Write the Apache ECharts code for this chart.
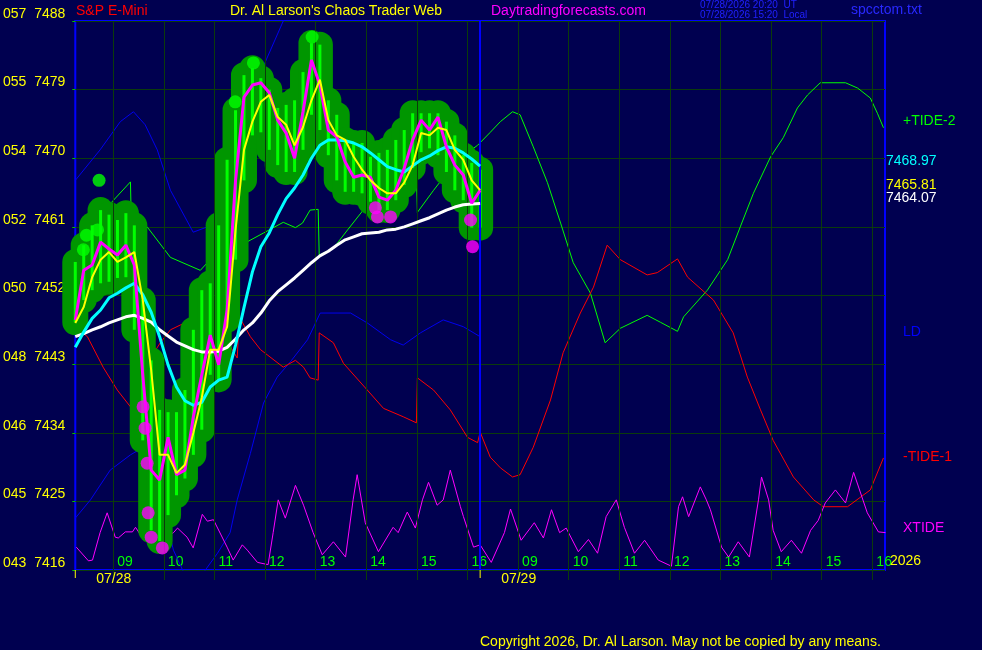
<!DOCTYPE html>
<html>
<head>
<meta charset="utf-8">
<style>
  html, body { margin: 0; padding: 0; background: #000050; }
  #chart { width: 982px; height: 650px; }
</style>
<script src="https://cdn.jsdelivr.net/npm/echarts@6/dist/echarts.min.js"></script>
</head>
<body>
<div id="chart"></div>
<script>
// x is session hours: 1 = 09:00 on 07/28 ... 8 = 16:00, 9 = 09:00 on 07/29 ... 16 = 16:00
const hourLabels = ['09', '10', '11', '12', '13', '14', '15', '16']
const hourTicks = [1, 2, 3, 4, 5, 6, 7, 8, 9, 10, 11, 12, 13, 14, 15, 16]
const dayLabels = ['07/28', '07/29']
const yCodes = ['043', '045', '046', '048', '050', '052', '054', '055', '057']

// 10 minute price bars from 08:15 on 07/28
const highVals = [7456.4, 7458.6, 7461.2, 7463.2, 7462.6, 7461.9, 7462.8, 7461.2, 7451.4, 7443.5,
  7437.0, 7436.7, 7436.7, 7439.6, 7447.5, 7452.7, 7453.6, 7461.2, 7469.8, 7476.3,
  7480.9, 7481.8, 7480.5, 7479.0, 7476.6, 7477.0, 7477.6, 7481.3, 7485.1, 7484.9,
  7477.6, 7475.7, 7472.4, 7472.0, 7472.0, 7470.2, 7470.7, 7471.1, 7472.4, 7473.7,
  7475.9, 7475.9, 7475.9, 7475.9, 7474.8, 7473.0, 7470.4, 7469.4, 7468.5]
const lowVals = [7448.5, 7451.4, 7452.7, 7453.6, 7453.8, 7454.3, 7454.4, 7447.5, 7433.0, 7421.2,
  7419.8, 7423.2, 7425.8, 7428.0, 7431.1, 7434.4, 7441.6, 7441.0, 7448.8, 7456.7,
  7467.1, 7473.0, 7473.4, 7471.1, 7469.1, 7468.2, 7468.2, 7471.1, 7475.7, 7473.7,
  7470.4, 7467.1, 7465.6, 7465.6, 7465.4, 7464.3, 7463.2, 7463.2, 7464.5, 7466.5,
  7468.7, 7470.8, 7471.3, 7470.4, 7468.2, 7465.8, 7464.5, 7460.9, 7460.9]
const closeVals = [7448.8, 7455.3, 7456.0, 7459.0, 7458.1, 7457.3, 7458.6, 7456.0, 7441.6, 7429.1,
  7427.8, 7433.4, 7428.5, 7429.1, 7436.1, 7441.6, 7446.8, 7442.9, 7450.1, 7467.1,
  7478.0, 7479.6, 7479.9, 7478.6, 7475.0, 7473.3, 7470.0, 7476.1, 7482.9, 7479.6,
  7473.7, 7472.8, 7469.5, 7467.5, 7467.8, 7467.5, 7464.9, 7464.5, 7465.8, 7468.7,
  7472.4, 7475.0, 7473.7, 7475.4, 7471.5, 7469.1, 7467.8, 7464.1, 7465.8]
const yellowVals = [7448.4, 7450.5, 7454.4, 7456.7, 7457.7, 7456.4, 7457.0, 7457.7, 7451.4, 7442.2,
  7431.1, 7431.1, 7428.7, 7429.8, 7434.0, 7438.6, 7444.9, 7444.9, 7447.9, 7460.6,
  7471.1, 7474.8, 7477.4, 7478.3, 7475.4, 7474.4, 7471.7, 7474.1, 7477.6, 7480.3,
  7475.0, 7473.0, 7472.4, 7470.2, 7468.5, 7467.1, 7466.1, 7465.4, 7465.4, 7466.8,
  7469.1, 7473.3, 7473.0, 7474.0, 7473.7, 7471.1, 7469.8, 7467.1, 7465.81]
const cyanVals = [7445.2, 7447.2, 7449.0, 7450.1, 7451.7, 7452.3, 7453.0, 7453.6, 7452.1, 7449.8,
  7446.6, 7442.9, 7440.0, 7438.2, 7437.6, 7438.0, 7440.0, 7440.9, 7441.3, 7445.5,
  7450.4, 7455.1, 7458.4, 7460.2, 7462.6, 7464.7, 7466.1, 7467.8, 7470.0, 7471.7,
  7472.4, 7472.4, 7472.3, 7472.0, 7471.5, 7470.7, 7469.8, 7468.9, 7468.5, 7468.2,
  7469.0, 7469.8, 7470.3, 7471.0, 7471.5, 7471.3, 7470.7, 7469.9, 7468.97]
const whiteVals = [7446.6, 7447.0, 7447.5, 7447.9, 7448.4, 7448.8, 7449.2, 7449.4, 7449.0, 7448.5,
  7447.5, 7446.7, 7445.9, 7445.4, 7444.9, 7444.6, 7444.6, 7444.7, 7445.2, 7446.3,
  7447.5, 7448.4, 7449.7, 7451.3, 7452.5, 7453.4, 7454.3, 7455.3, 7456.3, 7457.2,
  7457.8, 7458.6, 7459.3, 7459.7, 7460.1, 7460.2, 7460.3, 7460.6, 7460.7, 7461.0,
  7461.4, 7461.8, 7462.2, 7462.7, 7463.2, 7463.6, 7463.9, 7464.0, 7464.07]

const highDots = [[0.41, 7458.0], [0.47, 7459.9], [0.69, 7460.6], [0.72, 7467.1], [3.41, 7477.4], [3.77, 7482.5], [4.93, 7485.9]]
const lowDots = [[1.59, 7437.4], [1.63, 7434.6], [1.67, 7430.0], [1.69, 7423.5], [1.75, 7420.3], [1.97, 7418.9],
  [6.18, 7463.5], [6.22, 7462.3], [6.48, 7462.3], [8.06, 7461.9], [8.10, 7458.4]]

const tide2 = [[0.25, 7455.6], [0.55, 7459.3], [0.88, 7463.6], [1.34, 7466.9], [1.36, 7461.0], [1.67, 7461.0],
  [2.13, 7457.0], [2.72, 7455.3], [2.86, 7456.3], [3.25, 7458.4], [3.61, 7458.9], [3.97, 7460.2], [4.36, 7461.6],
  [4.60, 7460.9], [4.74, 7461.5], [4.89, 7463.2], [5.05, 7463.3], [5.07, 7457.3], [5.35, 7458.2], [5.63, 7460.6],
  [5.94, 7463.2], [6.22, 7465.8], [6.57, 7467.4], [6.99, 7468.2], [7.01, 7462.9], [7.33, 7465.8], [7.80, 7469.8],
  [8.20, 7471.7], [8.45, 7473.4], [8.65, 7474.8], [8.89, 7476.1], [9.04, 7475.7], [9.30, 7471.5], [9.58, 7466.8],
  [9.84, 7461.5], [10.09, 7456.3], [10.43, 7452.3], [10.72, 7445.8], [11.02, 7447.7], [11.55, 7449.4], [11.81, 7448.5],
  [12.15, 7447.3], [12.27, 7449.2], [12.74, 7452.7], [13.14, 7456.7], [13.39, 7461.0], [13.65, 7465.4], [13.99, 7470.2],
  [14.24, 7472.7], [14.52, 7476.6], [14.72, 7478.3], [14.97, 7479.9], [15.47, 7479.9], [15.71, 7479.2], [15.96, 7477.9],
  [16.10, 7475.9], [16.22, 7474.0]]
const tide1 = [[0.25, 7447.9], [0.49, 7446.6], [0.80, 7442.6], [1.08, 7439.6], [1.34, 7437.4], [1.36, 7443.1],
  [1.67, 7443.1], [1.93, 7445.8], [2.13, 7447.5], [2.66, 7449.2], [2.86, 7447.9], [3.18, 7446.8], [3.45, 7443.8],
  [3.49, 7449.2], [3.71, 7446.6], [3.91, 7444.9], [4.36, 7442.6], [4.60, 7443.5], [4.76, 7442.6], [4.89, 7441.2],
  [5.05, 7440.9], [5.07, 7447.1], [5.35, 7445.8], [5.55, 7443.1], [6.02, 7439.6], [6.34, 7437.2], [6.73, 7436.1],
  [6.99, 7435.3], [7.01, 7441.2], [7.33, 7439.6], [7.66, 7437.0], [8.00, 7433.4], [8.20, 7432.7], [8.25, 7434.1],
  [8.45, 7430.8], [8.65, 7429.4], [8.89, 7428.2], [9.04, 7428.5], [9.30, 7432.1], [9.64, 7438.3], [9.89, 7444.5],
  [10.23, 7449.7], [10.49, 7453.1], [10.76, 7458.6], [11.02, 7456.7], [11.55, 7454.7], [11.75, 7455.0], [12.15, 7456.8],
  [12.35, 7454.4], [12.86, 7451.4], [13.25, 7447.1], [13.53, 7441.3], [13.79, 7437.0], [14.04, 7433.0], [14.44, 7428.2],
  [14.84, 7425.2], [15.03, 7424.3], [15.51, 7424.3], [15.96, 7426.5], [16.22, 7430.7]]
const ldUpper = [[0.25, 7467.1], [0.74, 7471.1], [1.14, 7474.8], [1.40, 7476.1], [1.63, 7474.4], [1.87, 7471.1],
  [2.13, 7465.8], [2.58, 7460.3], [2.86, 7461.0], [3.12, 7463.2], [3.51, 7469.1], [3.95, 7481.8], [4.36, 7488.0], [4.70, 7493.4]]
const ldLower = [[0.25, 7422.8], [0.55, 7425.2], [0.94, 7429.1], [1.34, 7431.1], [1.57, 7432.0], [1.89, 7426.5],
  [2.19, 7418.6], [2.37, 7416.0], [2.58, 7413.6], [2.82, 7416.0], [3.06, 7418.2], [3.31, 7420.9], [3.45, 7425.2],
  [3.71, 7431.3], [3.97, 7437.9], [4.24, 7441.3], [4.50, 7443.3], [4.84, 7446.2], [5.09, 7449.7], [5.69, 7449.7],
  [6.02, 7448.4], [6.48, 7446.2], [6.73, 7445.5], [7.07, 7447.1], [7.52, 7448.8], [7.92, 7447.9], [8.25, 7446.6]]
const xtide = [[0.27, 7419.0], [0.51, 7417.2], [0.59, 7417.3], [0.74, 7420.9], [0.88, 7423.5], [1.04, 7420.3],
  [1.10, 7420.2], [1.24, 7421.0], [1.38, 7421.0], [1.44, 7421.6], [1.54, 7420.6], [1.73, 7419.3], [1.93, 7419.9],
  [2.19, 7420.9], [2.27, 7421.5], [2.46, 7420.3], [2.58, 7418.9], [2.76, 7423.3], [2.86, 7422.4], [2.98, 7422.6],
  [3.25, 7419.0], [3.37, 7417.3], [3.55, 7419.3], [3.65, 7418.6], [3.85, 7417.0], [4.06, 7416.7], [4.16, 7420.9],
  [4.26, 7425.2], [4.40, 7422.8], [4.60, 7427.1], [4.76, 7424.5], [4.95, 7420.9], [5.13, 7418.0], [5.35, 7419.7],
  [5.59, 7417.7], [5.74, 7425.2], [5.82, 7428.5], [5.98, 7422.2], [6.24, 7418.4], [6.53, 7421.6], [6.63, 7420.9],
  [6.81, 7423.6], [6.97, 7421.5], [7.11, 7425.2], [7.23, 7427.5], [7.40, 7424.5], [7.52, 7425.2], [7.66, 7429.1],
  [7.86, 7424.3], [7.92, 7423.0], [8.12, 7419.0], [8.25, 7419.3], [8.47, 7417.0], [8.73, 7420.9], [8.85, 7424.0],
  [9.06, 7419.9], [9.32, 7422.2], [9.50, 7420.2], [9.66, 7423.9], [9.82, 7420.9], [9.95, 7421.5], [10.19, 7418.4],
  [10.39, 7420.0], [10.57, 7418.2], [10.74, 7423.0], [10.94, 7425.2], [11.10, 7421.6], [11.30, 7418.2], [11.50, 7419.9],
  [11.77, 7417.3], [12.03, 7416.5], [12.17, 7424.3], [12.25, 7425.6], [12.37, 7423.0], [12.60, 7426.9], [12.72, 7425.2],
  [12.80, 7423.9], [13.02, 7419.0], [13.16, 7417.7], [13.35, 7419.7], [13.57, 7417.7], [13.75, 7425.2], [13.81, 7428.2],
  [13.95, 7425.2], [14.04, 7421.2], [14.20, 7418.4], [14.40, 7419.9], [14.60, 7418.2], [14.78, 7421.2], [14.93, 7422.5],
  [15.07, 7424.8], [15.27, 7426.5], [15.47, 7424.8], [15.63, 7428.8], [15.90, 7423.5], [16.12, 7421.0], [16.26, 7420.9]]

const FONT = '"Liberation Sans", Arial, sans-serif'
const GRID_GREEN = '#0b3b0b'
const nowX = 8.25

const priceTimes = closeVals.map((v, i) => 0.25 + i / 6)
const withTime = (vals) => vals.map((v, i) => [priceTimes[i], v])
const bars = highVals.map((h, i) => [priceTimes[i], h, lowVals[i]])

function thinLine (data, color) {
  return { type: 'line', data: data, symbol: 'none', lineStyle: { color: color, width: 1 }, z: 2 }
}
function thickLine (data, color, width, z) {
  return { type: 'line', data: data, symbol: 'none', lineStyle: { color: color, width: width }, z: z }
}

let chart = echarts.init(document.getElementById('chart'))

let opts = {
  backgroundColor: '#000050',
  animation: false,
  grid: { left: 75, right: 97, top: 21, bottom: 80, show: true, backgroundColor: '#000050', borderColor: '#0000ff', borderWidth: 2 },
  xAxis: {
    type: 'value', min: 0.25, max: 16.25,
    axisLine: { show: false },
    axisTick: { show: true, length: 10, customValues: hourTicks, lineStyle: { color: GRID_GREEN } },
    splitLine: { show: false },
    axisLabel: {
      inside: true, margin: 1, color: '#00ff00', fontSize: 14, fontFamily: FONT, align: 'left',
      padding: [0, 0, 0, 4], customValues: hourTicks,
      formatter: (v) => hourLabels[(Math.round(v) - 1) % 8]
    }
  },
  yAxis: {
    type: 'value', min: 7416, max: 7488, interval: 9,
    axisLine: { show: false },
    axisTick: { show: true, length: 3, lineStyle: { color: '#00c000' } },
    splitLine: { show: true, lineStyle: { color: GRID_GREEN, width: 1 } },
    axisLabel: {
      color: '#ffff00', fontSize: 14, fontFamily: FONT, margin: 10, verticalAlign: 'bottom',
      formatter: (v) => yCodes[Math.round((v - 7416) / 9)] + '  ' + v
    }
  },
  series: [
    {
      // vertical hour grid lines
      type: 'line', data: [], z: 1,
      markLine: {
        silent: true, symbol: 'none', label: { show: false },
        lineStyle: { color: GRID_GREEN, width: 1, type: 'solid' },
        data: hourTicks.map((h) => ({ xAxis: h }))
      }
    },
    thinLine(ldUpper, '#0000ee'),
    thinLine(ldLower, '#0000ee'),
    thinLine(tide2, '#00ff00'),
    thinLine(tide1, '#ff0000'),
    thinLine(xtide, '#ff00ff'),
    {
      type: 'custom', data: bars, encode: { x: 0, y: [1, 2] }, z: 3,
      renderItem: (params, api) => {
        let top = api.coord([api.value(0), api.value(1)])
        let bot = api.coord([api.value(0), api.value(2)])
        return {
          type: 'rect',
          shape: { x: top[0] - 13, y: top[1] - 13, width: 26, height: bot[1] - top[1] + 26, r: 13 },
          style: { fill: '#009600' }
        }
      }
    },
    {
      type: 'custom', data: bars, encode: { x: 0, y: [1, 2] }, z: 4,
      renderItem: (params, api) => {
        let top = api.coord([api.value(0), api.value(1)])
        let bot = api.coord([api.value(0), api.value(2)])
        return {
          type: 'line',
          shape: { x1: top[0], y1: top[1], x2: bot[0], y2: bot[1] },
          style: { stroke: '#00ff00', lineWidth: 3 }
        }
      }
    },
    Object.assign(thickLine(withTime(whiteVals), '#ffffff', 3, 5), {
      markLine: {
        silent: true, symbol: 'none', label: { show: false },
        lineStyle: { color: '#0000ff', width: 2, type: 'solid' },
        data: [{ xAxis: nowX }]
      }
    }),
    thickLine(withTime(cyanVals), '#00ffff', 3, 5),
    thickLine(withTime(closeVals), '#ff00ff', 3, 6),
    thickLine(withTime(yellowVals), '#ffff00', 2, 7),
    { type: 'scatter', data: highDots, symbolSize: 13, itemStyle: { color: '#00ff00' }, z: 8 },
    { type: 'scatter', data: lowDots, symbolSize: 13, itemStyle: { color: '#ff00ff' }, z: 8 }
  ]
}
chart.setOption(opts)

// texts placed from the chart's own scales
const px = (x) => chart.convertToPixel({ xAxisIndex: 0 }, x)
const py = (y) => chart.convertToPixel({ yAxisIndex: 0 }, y)
const bottomY = py(7416)
const text = (x, y, s, color, size) => ({
  type: 'text', x: x, y: y, z: 20,
  style: { text: s, fill: color, font: (size || 14) + 'px ' + FONT, verticalAlign: 'top' }
})
const lastLabel = (vals, color) => text(px(16.25) + 1, py(vals[vals.length - 1]) - 12, vals[vals.length - 1].toFixed(2), color)

chart.setOption({
  graphic: [
    text(76, 4, 'S&P E-Mini', '#ff0000'),
    text(230, 4, "Dr. Al Larson's Chaos Trader Web", '#ffff00'),
    text(491, 4, 'Daytradingforecasts.com', '#ff00ff'),
    text(700, 0, '07/28/2026 20:20  UT', '#2020ff', 10),
    text(700, 10, '07/28/2026 15:20  Local', '#2020ff', 10),
    text(851, 3, 'spcctom.txt', '#2828ff'),
    text(903, 114, '+TIDE-2', '#00ff00'),
    lastLabel(cyanVals, '#00ffff'),
    lastLabel(yellowVals, '#ffff00'),
    lastLabel(whiteVals, '#ffffff'),
    text(903, 325, 'LD', '#0000ff'),
    text(903, 450, '-TIDE-1', '#ff0000'),
    text(903, 521, 'XTIDE', '#ff00ff'),
    text(px(16.25) + 5, bottomY - 16, '2026', '#ffff00'),
    text(px(0.25) + 21, bottomY + 2, dayLabels[0], '#ffff00'),
    text(px(nowX) + 21, bottomY + 2, dayLabels[1], '#ffff00'),
    { type: 'line', z: 20, shape: { x1: px(0.25), y1: bottomY, x2: px(0.25), y2: bottomY + 8 }, style: { stroke: '#ffff00', lineWidth: 1 } },
    { type: 'line', z: 20, shape: { x1: px(nowX), y1: bottomY, x2: px(nowX), y2: bottomY + 8 }, style: { stroke: '#ffff00', lineWidth: 1 } },
    text(480, 635, 'Copyright 2026, Dr. Al Larson. May not be copied by any means.', '#ffff00')
  ]
})
</script>
</body>
</html>
